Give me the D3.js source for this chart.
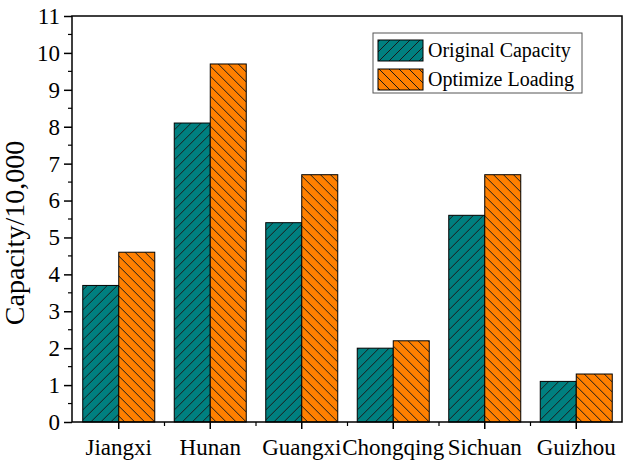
<!DOCTYPE html>
<html>
<head>
<meta charset="utf-8">
<script src="https://cdn.jsdelivr.net/npm/d3@7"></script>
<style>
  body { margin: 0; background: white; }
  svg { display: block; }
</style>
</head>
<body>
<div id="container"></div>
<script>
let w = 627;
let h = 465;

// data
let provinces = ["Jiangxi", "Hunan", "Guangxi", "Chongqing", "Sichuan", "Guizhou"];
let originalCapacity = [3.7, 8.1, 5.4, 2.0, 5.6, 1.1];
let optimizeLoading = [4.6, 9.7, 6.7, 2.2, 6.7, 1.3];
let seriesNames = ["Original Capacity", "Optimize Loading"];
let yTicks = [0, 1, 2, 3, 4, 5, 6, 7, 8, 9, 10, 11];

let plotLeft = 72, plotRight = 622, plotTop = 16, plotBottom = 422;
let font = "'Liberation Serif', 'Times New Roman', serif";

let viz = d3.select("#container").append("svg")
    .attr("width", w)
    .attr("height", h)
;

// hatch patterns
let defs = viz.append("defs");
function makeHatch(id, color, dir) {
  let p = defs.append("pattern")
      .attr("id", id)
      .attr("patternUnits", "userSpaceOnUse")
      .attr("width", 10)
      .attr("height", 10)
  ;
  p.append("rect").attr("width", 10).attr("height", 10).attr("fill", color);
  let d = dir > 0 ? "M-2,2 L2,-2 M0,10 L10,0 M8,12 L12,8" : "M-2,8 L2,12 M0,0 L10,10 M8,-2 L12,2";
  p.append("path")
      .attr("d", d)
      .attr("stroke", "#1a1a1a")
      .attr("stroke-width", 1)
  ;
}
makeHatch("hatchTeal", "#008080", 1);
makeHatch("hatchOrange", "#ff8000", -1);
let fills = ["url(#hatchTeal)", "url(#hatchOrange)"];

let x = d3.scaleBand().domain(provinces).range([plotLeft + 1, plotRight]).padding(0);
let xInner = d3.scaleBand().domain([0, 1]).range([0, 72]);
let y = d3.scaleLinear().domain([0, 11]).range([plotBottom, plotTop]);

// bars
let groups = viz.append("g").selectAll("g").data(provinces).enter()
  .append("g")
    .attr("transform", function(d) { return "translate(" + (x(d) + x.bandwidth() / 2 - 36) + ",0)"; })
;
groups.selectAll("rect").data(function(d, i) { return [originalCapacity[i], optimizeLoading[i]]; }).enter()
  .append("rect")
    .attr("x", function(d, j) { return xInner(j); })
    .attr("y", function(d) { return y(d); })
    .attr("width", xInner.bandwidth())
    .attr("height", function(d) { return y(0) - y(d); })
    .attr("fill", function(d, j) { return fills[j]; })
    .attr("stroke", "black")
    .attr("stroke-width", 1)
;

// frame
viz.append("rect")
    .attr("x", plotLeft)
    .attr("y", plotTop)
    .attr("width", plotRight - plotLeft)
    .attr("height", plotBottom - plotTop)
    .attr("fill", "none")
    .attr("stroke", "black")
    .attr("stroke-width", 1.5)
;

// y axis
let yAxis = viz.append("g")
    .attr("transform", "translate(" + plotLeft + ",0)")
    .call(d3.axisLeft(y).tickValues(yTicks).tickSize(8).tickPadding(4).tickFormat(d3.format("d")))
;
yAxis.select(".domain").remove();
yAxis.selectAll("line").attr("stroke-width", 1.5);
yAxis.selectAll("text").attr("font-family", font).attr("font-size", 23).attr("fill", "black");
let yMinor = d3.range(0.5, 11, 1);
viz.append("g").selectAll("line").data(yMinor).enter()
  .append("line")
    .attr("x1", plotLeft - 4).attr("x2", plotLeft)
    .attr("y1", function(d) { return y(d); })
    .attr("y2", function(d) { return y(d); })
    .attr("stroke", "black")
    .attr("stroke-width", 1.2)
;

// x axis
let xAxis = viz.append("g")
    .attr("transform", "translate(0," + plotBottom + ")")
    .call(d3.axisBottom(x).tickSize(7).tickPadding(10))
;
xAxis.select(".domain").remove();
xAxis.selectAll("line").attr("stroke-width", 1.5);
xAxis.selectAll("text").attr("font-family", font).attr("font-size", 23).attr("fill", "black");
viz.append("g").selectAll("line").data(provinces.slice(1)).enter()
  .append("line")
    .attr("x1", function(d) { return x(d); })
    .attr("x2", function(d) { return x(d); })
    .attr("y1", plotBottom).attr("y2", plotBottom + 4)
    .attr("stroke", "black")
    .attr("stroke-width", 1.2)
;

// y title
viz.append("text")
    .text("Capacity/10,000")
    .attr("transform", "translate(18,233) rotate(-90)")
    .attr("text-anchor", "middle")
    .attr("dominant-baseline", "middle")
    .attr("font-family", font)
    .attr("font-size", 28)
;

// legend
let legend = viz.append("g");
legend.append("rect")
    .attr("x", 373).attr("y", 33)
    .attr("width", 209).attr("height", 60)
    .attr("fill", "white")
    .attr("stroke", "#555")
    .attr("stroke-width", 1)
;
seriesNames.forEach(function(name, i) {
  legend.append("rect")
      .attr("x", 378).attr("y", 40 + i * 29)
      .attr("width", 45).attr("height", 21)
      .attr("fill", fills[i])
      .attr("stroke", "black")
      .attr("stroke-width", 1)
  ;
  legend.append("text")
      .text(name)
      .attr("x", 428).attr("y", 57 + i * 29)
      .attr("font-family", font)
      .attr("font-size", 20)
  ;
});
</script>
</body>
</html>
